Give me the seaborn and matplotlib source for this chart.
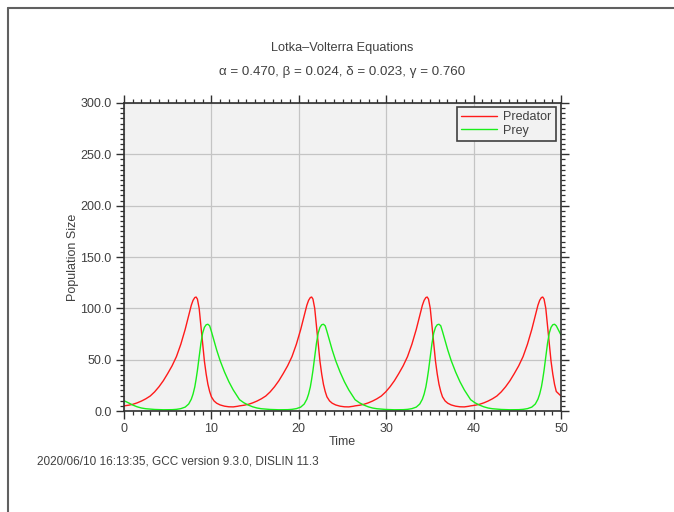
import pandas as pd
import seaborn as sns
import matplotlib.pyplot as plt
from matplotlib.lines import Line2D
from matplotlib.ticker import MultipleLocator, FormatStrFormatter

# values, one line per cycle
time = [
    0.0, 0.5, 1.0, 1.5, 2.0, 2.5, 3.0, 3.5, 4.0, 4.5, 5.0, 5.5, 6.0, 6.5, 7.0, 7.4, 7.7, 7.9,
    8.1, 8.25, 8.4, 8.6, 8.8, 9.0, 9.2, 9.4, 9.6, 9.8, 10.0, 10.3, 10.6, 11.0, 11.5, 12.0, 12.5, 13.0,
    13.22, 13.72, 14.22, 14.72, 15.22, 15.72, 16.22, 16.72, 17.22, 17.72, 18.22, 18.72, 19.22, 19.72,
    20.22, 20.62, 20.92, 21.12, 21.32, 21.47, 21.62, 21.82, 22.02, 22.22, 22.42, 22.62, 22.82, 23.02,
    23.22, 23.52, 23.82, 24.22, 24.72, 25.22, 25.72, 26.22,
    26.44, 26.94, 27.44, 27.94, 28.44, 28.94, 29.44, 29.94, 30.44, 30.94, 31.44, 31.94, 32.44, 32.94,
    33.44, 33.84, 34.14, 34.34, 34.54, 34.69, 34.84, 35.04, 35.24, 35.44, 35.64, 35.84, 36.04, 36.24,
    36.44, 36.74, 37.04, 37.44, 37.94, 38.44, 38.94, 39.44,
    39.66, 40.16, 40.66, 41.16, 41.66, 42.16, 42.66, 43.16, 43.66, 44.16, 44.66, 45.16, 45.66, 46.16,
    46.66, 47.06, 47.36, 47.56, 47.76, 47.91, 48.06, 48.26, 48.46, 48.66, 48.86, 49.06, 49.26, 49.46,
    50.0,
]
predator = [
    5.0, 5.6, 6.5, 7.9, 9.7, 11.9, 14.6, 18.6, 23.6, 29.5, 36.5, 44.0, 53.0, 65.0, 79.5, 93.0, 103.0, 107.8,
    110.5, 111.0, 109.0, 100.0, 83.0, 65.0, 48.5, 36.0, 26.0, 19.0, 13.8, 9.8, 7.6, 5.9, 4.7, 4.1, 4.0, 4.6,
    5.0, 5.6, 6.5, 7.9, 9.7, 11.9, 14.6, 18.6, 23.6, 29.5, 36.5, 44.0, 53.0, 65.0, 79.5, 93.0, 103.0, 107.8,
    110.5, 111.0, 109.0, 100.0, 83.0, 65.0, 48.5, 36.0, 26.0, 19.0, 13.8, 9.8, 7.6, 5.9, 4.7, 4.1, 4.0, 4.6,
    5.0, 5.6, 6.5, 7.9, 9.7, 11.9, 14.6, 18.6, 23.6, 29.5, 36.5, 44.0, 53.0, 65.0, 79.5, 93.0, 103.0, 107.8,
    110.5, 111.0, 109.0, 100.0, 83.0, 65.0, 48.5, 36.0, 26.0, 19.0, 13.8, 9.8, 7.6, 5.9, 4.7, 4.1, 4.0, 4.6,
    5.0, 5.6, 6.5, 7.9, 9.7, 11.9, 14.6, 18.6, 23.6, 29.5, 36.5, 44.0, 53.0, 65.0, 79.5, 93.0, 103.0, 107.8,
    110.5, 111.0, 109.0, 100.0, 83.0, 65.0, 48.5, 36.0, 26.0, 19.0,
    14.6,
]
prey = [
    10.0, 8.0, 5.8, 4.1, 2.9, 2.2, 1.8, 1.5, 1.3, 1.2, 1.2, 1.3, 1.6, 2.3, 3.8, 6.8, 11.5, 16.5,
    23.5, 31.0, 39.5, 53.0, 66.0, 76.0, 81.5, 84.0, 84.5, 83.0, 77.5, 68.5, 59.5, 49.0, 38.0, 28.5, 20.5, 14.0,
    11.0, 8.0, 5.8, 4.1, 2.9, 2.2, 1.8, 1.5, 1.3, 1.2, 1.2, 1.3, 1.6, 2.3, 3.8, 6.8, 11.5, 16.5,
    23.5, 31.0, 39.5, 53.0, 66.0, 76.0, 81.5, 84.0, 84.5, 83.0, 77.5, 68.5, 59.5, 49.0, 38.0, 28.5, 20.5, 14.0,
    11.0, 8.0, 5.8, 4.1, 2.9, 2.2, 1.8, 1.5, 1.3, 1.2, 1.2, 1.3, 1.6, 2.3, 3.8, 6.8, 11.5, 16.5,
    23.5, 31.0, 39.5, 53.0, 66.0, 76.0, 81.5, 84.0, 84.5, 83.0, 77.5, 68.5, 59.5, 49.0, 38.0, 28.5, 20.5, 14.0,
    11.0, 8.0, 5.8, 4.1, 2.9, 2.2, 1.8, 1.5, 1.3, 1.2, 1.2, 1.3, 1.6, 2.3, 3.8, 6.8, 11.5, 16.5,
    23.5, 31.0, 39.5, 53.0, 66.0, 76.0, 81.5, 84.0, 84.5, 83.0,
    74.0,
]

title = "Lotka\u2013Volterra Equations"
subtitle = "\u03b1 = 0.470, \u03b2 = 0.024, \u03b4 = 0.023, \u03b3 = 0.760"
footer = "2020/06/10 16:13:35, GCC version 9.3.0, DISLIN 11.3"

df = pd.DataFrame({"Time": time * 2,
                   "Population": predator + prey,
                   "Species": ["Predator"] * len(time) + ["Prey"] * len(time)})

sns.set_style("ticks")
plt.rcParams['font.family'] = ['Liberation Sans', 'DejaVu Sans']
txt = "#404040"

fig = plt.figure(figsize=(6.74, 5.12), dpi=100)
ax = fig.add_axes([124 / 674, 101 / 512, 437 / 674, 308 / 512])
ax.set_facecolor("#f2f2f2")

sns.lineplot(data=df, x="Time", y="Population", hue="Species",
             palette={"Predator": "#ff1a1a", "Prey": "#1aee1a"},
             linewidth=1.0, ax=ax)

ax.set_xlim(0, 50)
ax.set_ylim(0, 300)
ax.xaxis.set_major_locator(MultipleLocator(10))
ax.xaxis.set_minor_locator(MultipleLocator(1))
ax.yaxis.set_major_locator(MultipleLocator(50))
ax.yaxis.set_minor_locator(MultipleLocator(5))
ax.yaxis.set_major_formatter(FormatStrFormatter("%.1f"))
ax.grid(True, which="major", color="#c4c4c4", linewidth=0.9)
ax.set_axisbelow(True)

ax.tick_params(which="both", direction="out", top=True, right=True,
               colors="#303030", labelcolor=txt, labelsize=9)
ax.tick_params(which="major", length=6, width=1.0, pad=3)
ax.tick_params(which="minor", length=3, width=0.9)
for s in ax.spines.values():
    s.set_color("#303030")
    s.set_linewidth(1.2)

ax.set_xlabel("Time", fontsize=9, color=txt)
ax.set_ylabel("Population Size", fontsize=9, color=txt)
ax.xaxis.set_label_coords(0.5, -0.081)
ax.yaxis.set_label_coords(-0.104, 0.5)

leg = ax.legend(loc="upper right", bbox_to_anchor=(0.9886, 0.987), borderaxespad=0,
                fontsize=9, handlelength=2.9, fancybox=False, framealpha=1,
                facecolor="#f2f2f2", edgecolor="#404040", borderpad=0.35,
                labelspacing=0.1, handletextpad=0.5)
leg.get_frame().set_linewidth(1.2)
for t in leg.get_texts():
    t.set_color(txt)

fig.text(342.5 / 674, 1 - 48.5 / 512, title, ha="center", va="center", fontsize=9.2, color=txt)
fig.text(342.5 / 674, 1 - 72.5 / 512, subtitle, ha="center", va="center", fontsize=9.6, color=txt)
fig.text(37 / 674, 1 - 461 / 512, footer, ha="left", va="center", fontsize=8.5, color=txt)

# page border
fig.add_artist(Line2D([7.5 / 674, 7.5 / 674], [0, 1 - 7.5 / 512], color="#606060", linewidth=1.5))
fig.add_artist(Line2D([7.5 / 674, 1], [1 - 7.5 / 512, 1 - 7.5 / 512], color="#606060", linewidth=1.5))

plt.savefig("out.png", dpi=100)
